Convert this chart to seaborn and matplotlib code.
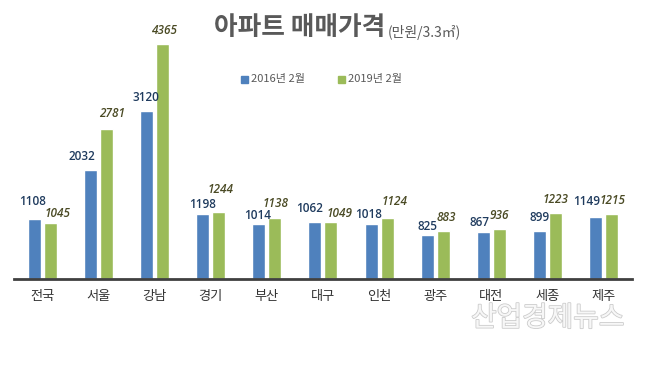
import pandas as pd
import seaborn as sns
import matplotlib.pyplot as plt
import matplotlib.patheffects as pe

# data
regions = ['전국', '서울', '강남', '경기', '부산', '대구', '인천', '광주', '대전', '세종', '제주']
price_2016 = [1108, 2032, 3120, 1198, 1014, 1062, 1018, 825, 867, 899, 1149]
price_2019 = [1045, 2781, 4365, 1244, 1138, 1049, 1124, 883, 936, 1223, 1215]
series = ['2016년 2월', '2019년 2월']

# hand-placed label offsets (pixels), like the original chart
off_2016 = [(-2, 18), (-8, 13), (0, 13), (0, 10), (-1, 9), (-5, 13),
            (-3, 10), (0, 8), (-4, 10), (0, 13), (-9, 16)]
off_2019 = [(8, 9), (6, 16), (2, 13), (2, 22), (1, 14), (9, 9),
            (7, 17), (3, 14), (0, 13), (0, 14), (1, 13)]

df = pd.DataFrame({'지역': regions * 2,
                   '기간': [series[0]] * len(regions) + [series[1]] * len(regions),
                   '가격': price_2016 + price_2019})

sns.set_theme(style='white')
plt.rcParams['font.family'] = ['Noto Sans CJK KR', 'DejaVu Sans']

fig = plt.figure(figsize=(6.48, 3.72), dpi=100)
ax = fig.add_axes([0.0216, 0.25, 0.9536, 0.632])

colors = ['#4F81BD', '#9BBB59']
sns.barplot(data=df, x='지역', y='가격', hue='기간', palette=colors, saturation=1,
            width=0.57, gap=0.19, ax=ax, legend=False)

ax.set_xlim(-0.5, len(regions) - 0.5)
ax.set_ylim(0, 4365)
ax.set_xlabel('')
ax.set_ylabel('')
ax.set_yticks([])
for s in ['top', 'left', 'right']:
    ax.spines[s].set_visible(False)
ax.spines['bottom'].set_color('#404040')
ax.spines['bottom'].set_linewidth(2)
ax.tick_params(axis='x', length=0, pad=8, labelsize=9.5, labelcolor='#333333')

# value labels
styles = [dict(color='#1F3B5E', fontweight='semibold'),
          dict(color='#4A4A24', fontweight='semibold', fontstyle='italic')]
for cont, vals, offs, st in zip(ax.containers, [price_2016, price_2019],
                                [off_2016, off_2019], styles):
    for bar, v, (dx, dy) in zip(cont, vals, offs):
        ax.annotate(str(v), (bar.get_x() + bar.get_width() / 2, bar.get_height()),
                    xytext=(dx, dy), textcoords='offset pixels', ha='center',
                    va='center', fontsize=8.5, family=['Open Sans', 'DejaVu Sans'],
                    annotation_clip=False, **st)

# title
fig.text(0.595, 0.925, '아파트 매매가격', ha='right', va='center', fontsize=18.5,
         fontweight='bold', color='#595959')
fig.text(0.598, 0.912, '(만원/3.3㎡)', ha='left', va='center', fontsize=10, color='#595959')

# legend
fig.patches.append(plt.Rectangle((0.372, 0.778), 0.011, 0.019, color=colors[0],
                                 transform=fig.transFigure, figure=fig))
fig.text(0.388, 0.787, series[0], ha='left', va='center', fontsize=8, color='#595959')
fig.patches.append(plt.Rectangle((0.521, 0.778), 0.011, 0.019, color=colors[1],
                                 transform=fig.transFigure, figure=fig))
fig.text(0.537, 0.787, series[1], ha='left', va='center', fontsize=8, color='#595959')

# watermark
fig.text(0.845, 0.145, '산업경제뉴스', ha='center', va='center', fontsize=20,
         color='#f7f7f7', path_effects=[pe.withStroke(linewidth=1.2, foreground='#cccccc')])

fig.savefig('out.png', dpi=100)
